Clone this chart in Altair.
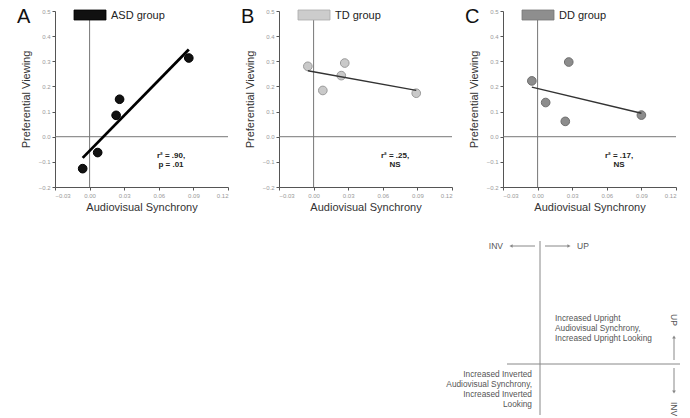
import altair as alt
import pandas as pd

# ---------------- data ----------------
x_ticks = [-0.03, 0.0, 0.03, 0.06, 0.09, 0.12]
y_ticks = [-0.2, -0.1, 0.0, 0.1, 0.2, 0.3, 0.4, 0.5]

asd_x = [-0.006, 0.007, 0.023, 0.026, 0.086]
asd_y = [-0.127, -0.063, 0.085, 0.149, 0.313]
td_x = [-0.005, 0.008, 0.024, 0.027, 0.089]
td_y = [0.280, 0.184, 0.243, 0.293, 0.173]
dd_x = [-0.005, 0.007, 0.024, 0.027, 0.090]
dd_y = [0.222, 0.136, 0.061, 0.297, 0.086]

groups = ["ASD group", "TD group", "DD group"]
letters = ["A", "B", "C"]
stats = [["r\u00b2 = .90,", "p = .01"], ["r\u00b2 = .25,", "NS"], ["r\u00b2 = .17,", "NS"]]

diagram_upright = ["Increased Upright", "Audiovisual Synchrony,", "Increased Upright Looking"]
diagram_inverted = ["Increased Inverted", "Audiovisual Synchrony,", "Increased Inverted", "Looking"]

FONT = "Liberation Sans"
W, H = 173, 176
one = pd.DataFrame({"k": [0]})


def txt(s, x, y, size=7.5, align="left", baseline="middle", color="#555", weight="normal", angle=0):
    m = dict(text=s, fontSize=size, align=align, baseline=baseline, color=color,
             fontWeight=weight, font=FONT)
    if angle:
        m["angle"] = angle
    return alt.Chart(one).mark_text(**m).encode(x=alt.value(x), y=alt.value(y))


def hline(x1, x2, y, color="#888", w=1):
    return alt.Chart(one).mark_rule(color=color, strokeWidth=w).encode(
        x=alt.value(x1), x2=alt.value(x2), y=alt.value(y))


def vline(x, y1, y2, color="#888", w=1):
    return alt.Chart(one).mark_rule(color=color, strokeWidth=w).encode(
        x=alt.value(x), y=alt.value(y1), y2=alt.value(y2))


def head(x, y, shape):
    return alt.Chart(one).mark_point(shape=shape, filled=True, color="#888", size=14, opacity=1).encode(
        x=alt.value(x), y=alt.value(y))


def panel(xs, ys, fill, stroke, lw, lcolor, letter, group, stat, sw_fill, sw_stroke, extra=None):
    df = pd.DataFrame({"x": xs, "y": ys})
    xsc = alt.Scale(domain=[-0.03, 0.12], nice=False, zero=False)
    ysc = alt.Scale(domain=[-0.2, 0.5], nice=False, zero=False)
    X = alt.X("x:Q", scale=xsc, axis=alt.Axis(values=x_ticks, format=".2f", title="Audiovisual Synchrony"))
    Y = alt.Y("y:Q", scale=ysc, axis=alt.Axis(values=y_ticks, format=".1f", title="Preferential Viewing"))
    zx = alt.Chart(pd.DataFrame({"x": [0.0]})).mark_rule(color="#777", strokeWidth=1).encode(x=X)
    zy = alt.Chart(pd.DataFrame({"y": [0.0]})).mark_rule(color="#777", strokeWidth=1).encode(y=Y)
    pts = alt.Chart(df).mark_circle(size=75, color=fill, stroke=stroke, strokeWidth=1, opacity=1).encode(x=X, y=Y)
    reg = alt.Chart(df).transform_regression("x", "y").mark_line(color=lcolor, strokeWidth=lw).encode(x=X, y=Y)
    sw = alt.Chart(one).mark_rect(fill=sw_fill, stroke=sw_stroke, strokeWidth=0.8).encode(
        x=alt.value(19), x2=alt.value(51), y=alt.value(-1), y2=alt.value(9))
    layers = [zx, zy, pts, reg, sw,
              txt(group, 56, 4.5, size=11, color="#222"),
              txt(letter, -38, 12, size=20, baseline="alphabetic", color="#111"),
              txt(stat[0], 116, 145, size=8, align="center", weight="bold", color="#222"),
              txt(stat[1], 116, 154, size=8, align="center", weight="bold", color="#222")]
    if extra:
        layers += extra
    return alt.layer(*layers).properties(width=W, height=H)


# schematic diagram below panel C (coordinates relative to panel C plot origin)
diagram = [
    vline(37, 230, 404),
    hline(4, 177, 353),
    txt("INV", 0, 235, size=8.5, align="right"),
    hline(8, 32, 235), head(8, 235, "triangle-left"),
    hline(42, 66, 235), head(66, 235, "triangle-right"),
    txt("UP", 74, 235, size=8.5),
]
for i, s in enumerate(diagram_upright):
    diagram.append(txt(s, 52, 308 + 10 * i, size=8.3))
for i, s in enumerate(diagram_inverted):
    diagram.append(txt(s, 29, 364 + 10 * i, size=8.3, align="right"))
diagram += [
    txt("UP", 171, 309, size=8.5, align="center", angle=90),
    vline(171, 326, 349), head(171, 326, "triangle-up"),
    vline(171, 357, 381), head(171, 381, "triangle-down"),
    txt("INV", 171, 398, size=8.5, align="center", angle=90),
]

pA = panel(asd_x, asd_y, "#111", "#000", 2.8, "#000", letters[0], groups[0], stats[0], "#111", "#000")
pB = panel(td_x, td_y, "#c9c9c9", "#9a9a9a", 1.4, "#333", letters[1], groups[1], stats[1], "#cccccc", "#aaaaaa")
pC = panel(dd_x, dd_y, "#8c8c8c", "#6e6e6e", 1.4, "#333", letters[2], groups[2], stats[2], "#8e8e8e", "#777777",
           extra=diagram)

chart = alt.hconcat(pA, pB, pC, spacing=51, bounds="flush").properties(
    padding={"left": 17, "top": 7, "right": 0, "bottom": 0}
).configure_view(stroke=None).configure_axis(
    grid=False, domainColor="#555", tickColor="#555", tickSize=3,
    labelFontSize=6, labelColor="#999", labelFont=FONT, labelPadding=2,
    titleFont=FONT, titleFontSize=11, titleFontWeight="normal", titleColor="#333"
).configure_axisY(titlePadding=7).configure_axisX(titlePadding=3)

chart.save("out.html", embed_options={"renderer": "svg", "actions": False})
